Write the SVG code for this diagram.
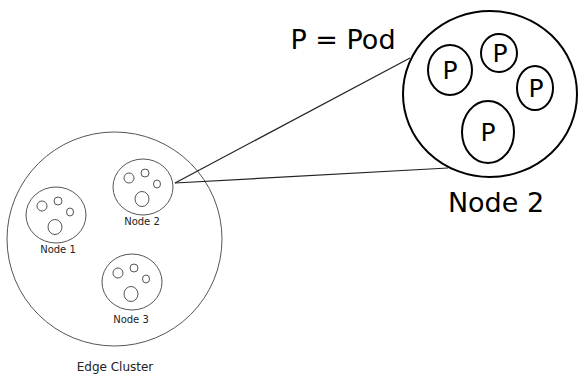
<svg xmlns="http://www.w3.org/2000/svg" width="579" height="376" viewBox="0 0 579 376">
<style>
.thin{fill:none;stroke:#555;stroke-width:1}
.pod{fill:none;stroke:#555;stroke-width:1}
.big{fill:#fff;stroke:#000;stroke-width:2}
.bpod{fill:none;stroke:#000;stroke-width:2}
text{font-family:"DejaVu Sans",sans-serif;fill:#000}
.sm{font-size:10px;fill:#222}
.lg{font-size:27px}
.p{font-size:25px}
</style>
<defs>
<g id="pods">
<ellipse class="pod" cx="-14" cy="-9" rx="5" ry="5"/>
<ellipse class="pod" cx="2" cy="-14" rx="4" ry="4"/>
<ellipse class="pod" cx="14" cy="-3" rx="3.5" ry="4"/>
<ellipse class="pod" cx="-1" cy="12" rx="7" ry="7.5"/>
</g>
</defs>
<g id="cluster">
<ellipse class="thin" cx="114.5" cy="239" rx="107.5" ry="107"/>
<text x="115" y="371" text-anchor="middle" style="font-size:12px;fill:#222">Edge Cluster</text>
</g>
<g id="node1">
<ellipse class="thin" cx="56" cy="215" rx="30" ry="28"/>
<use href="#pods" x="56" y="215"/>
<text class="sm" x="58" y="253" text-anchor="middle">Node 1</text>
</g>
<g id="node2">
<ellipse class="thin" cx="143" cy="187" rx="30" ry="28"/>
<use href="#pods" x="143" y="187"/>
<text class="sm" x="142" y="225" text-anchor="middle">Node 2</text>
</g>
<g id="node3">
<ellipse class="thin" cx="132" cy="282" rx="30" ry="28"/>
<use href="#pods" x="132" y="282"/>
<text class="sm" x="131" y="323" text-anchor="middle">Node 3</text>
</g>
<g id="connectors">
<line x1="175" y1="183" x2="410" y2="58" stroke="#222" stroke-width="1.2"/>
<line x1="175" y1="183" x2="448" y2="168" stroke="#222" stroke-width="1.2"/>
</g>
<g id="legend">
<text class="lg" x="343" y="49" text-anchor="middle">P = Pod</text>
</g>
<g id="node2-zoom">
<ellipse class="bpod" cx="490" cy="94" rx="87" ry="83"/>
<ellipse class="bpod" cx="450" cy="70" rx="22" ry="25"/>
<text class="p" x="450" y="79" text-anchor="middle">P</text>
<ellipse class="bpod" cx="499" cy="53" rx="18" ry="19"/>
<text class="p" x="500" y="62" text-anchor="middle">P</text>
<ellipse class="bpod" cx="535" cy="88" rx="18" ry="22"/>
<text class="p" x="536" y="97" text-anchor="middle">P</text>
<ellipse class="bpod" cx="488" cy="132" rx="26" ry="31"/>
<text class="p" x="488" y="141" text-anchor="middle">P</text>
<text class="lg" x="496" y="212" text-anchor="middle">Node 2</text>
</g>
</svg>
